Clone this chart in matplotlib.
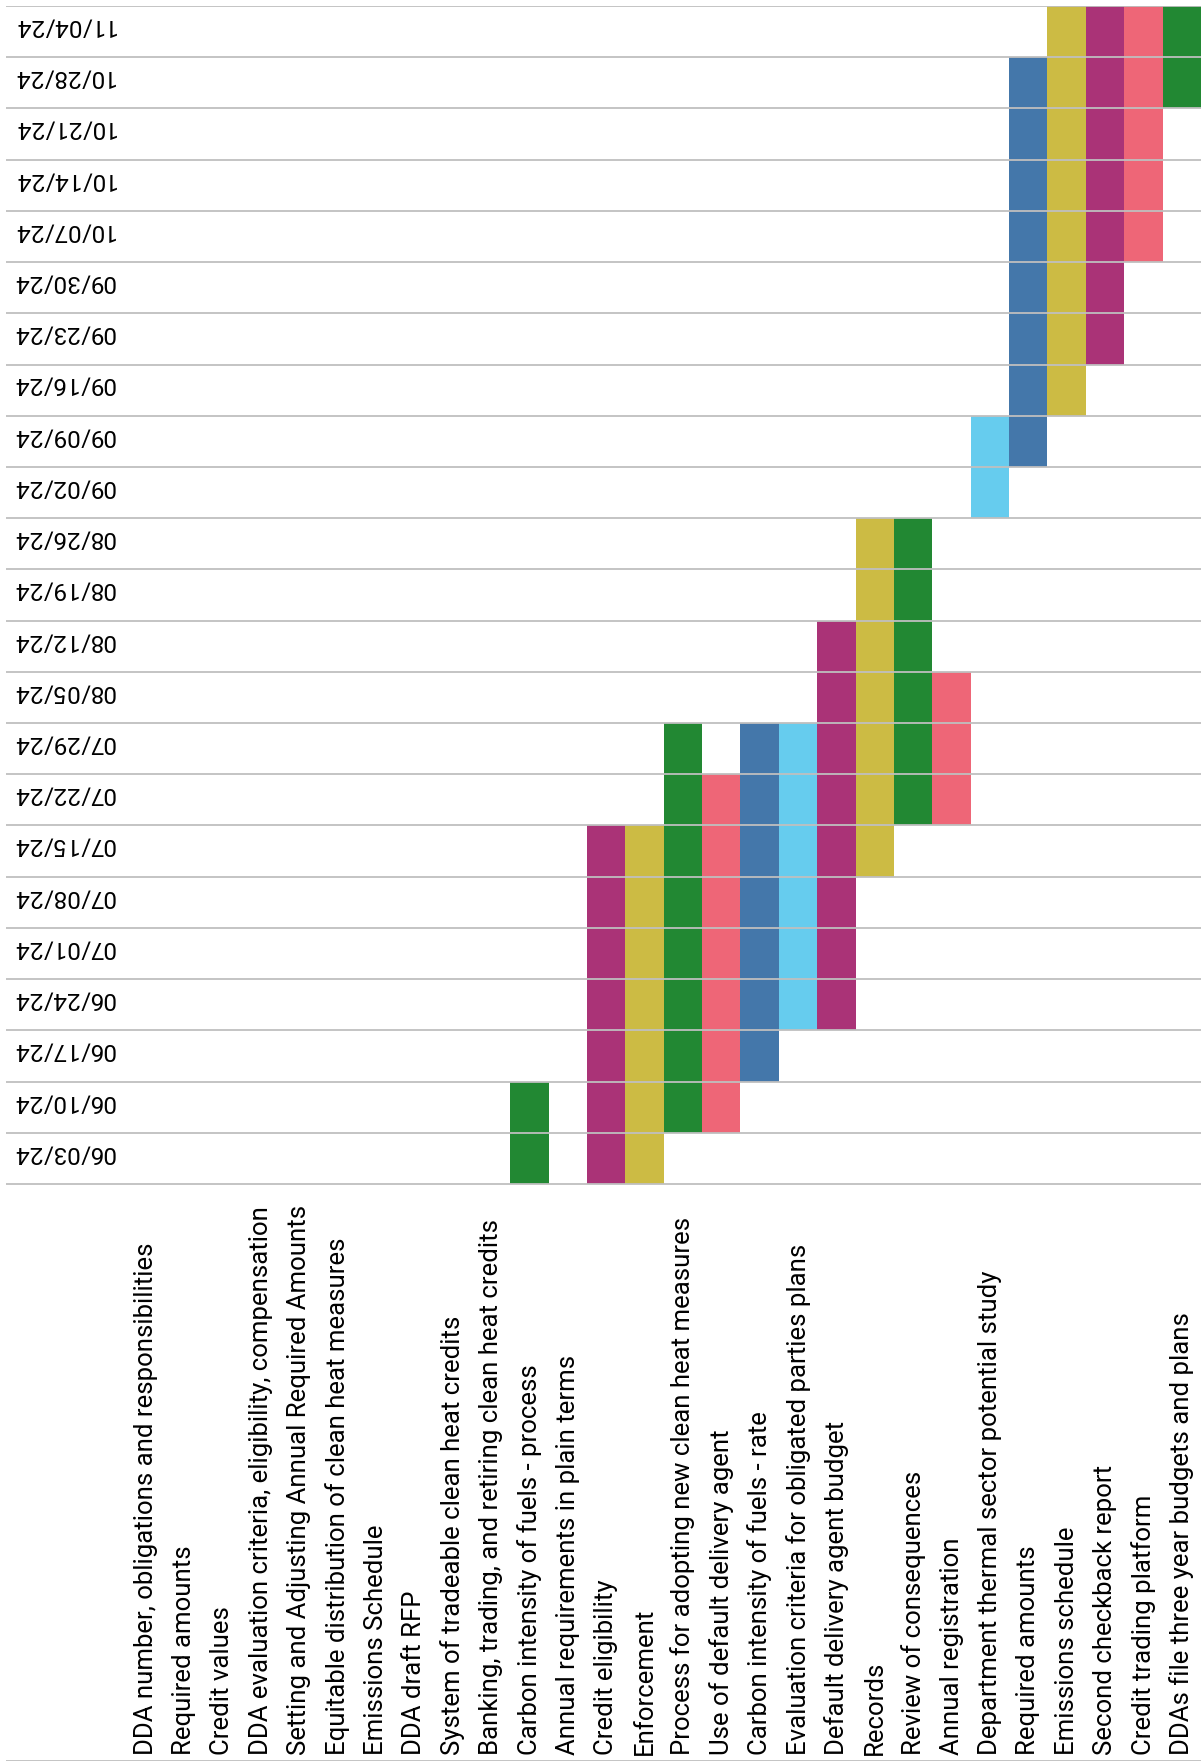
import numpy as np
import matplotlib.pyplot as plt

plt.rcParams['font.family'] = ['Roboto', 'DejaVu Sans']

weeks = ['06/03/24', '06/10/24', '06/17/24', '06/24/24', '07/01/24', '07/08/24',
         '07/15/24', '07/22/24', '07/29/24', '08/05/24', '08/12/24', '08/19/24',
         '08/26/24', '09/02/24', '09/09/24', '09/16/24', '09/23/24', '09/30/24',
         '10/07/24', '10/14/24', '10/21/24', '10/28/24', '11/04/24']

tasks = ['DDA number, obligations and responsibilities',
         'Required amounts',
         'Credit values',
         'DDA evaluation criteria, eligibility, compensation',
         'Setting and Adjusting Annual Required Amounts',
         'Equitable distribution of clean heat measures',
         'Emissions Schedule',
         'DDA draft RFP',
         'System of tradeable clean heat credits',
         'Banking, trading, and retiring clean heat credits',
         'Carbon intensity of fuels - process',
         'Annual requirements in plain terms',
         'Credit eligibility',
         'Enforcement',
         'Process for adopting new clean heat measures',
         'Use of default delivery agent',
         'Carbon intensity of fuels - rate',
         'Evaluation criteria for obligated parties plans',
         'Default delivery agent budget',
         'Records',
         'Review of consequences',
         'Annual registration',
         'Department thermal sector potential study',
         'Required amounts',
         'Emissions schedule',
         'Second checkback report',
         'Credit trading platform',
         'DDAs file three year budgets and plans']

# first and last week (as in the weeks list) for the tasks that have a bar
bar_task = [10, 12, 13, 14, 15, 16, 17, 18, 19, 20, 21, 22, 23, 24, 25, 26, 27]
bar_start = ['06/03/24', '06/03/24', '06/03/24', '06/10/24', '06/10/24', '06/17/24',
             '06/24/24', '06/24/24', '07/15/24', '07/22/24', '07/22/24', '09/02/24',
             '09/09/24', '09/16/24', '09/23/24', '10/07/24', '10/28/24']
bar_end = ['06/10/24', '07/15/24', '07/15/24', '07/29/24', '07/22/24', '07/29/24',
           '07/29/24', '08/12/24', '08/26/24', '08/26/24', '08/05/24', '09/09/24',
           '10/28/24', '11/04/24', '11/04/24', '11/04/24', '11/04/24']
bar_color = ['green', 'purple', 'yellow', 'green', 'red', 'blue', 'cyan', 'purple',
             'yellow', 'green', 'red', 'cyan', 'blue', 'yellow', 'purple', 'red', 'green']

palette = {'blue': '#4477AA', 'cyan': '#66CCEE', 'green': '#228833',
           'yellow': '#CCBB44', 'red': '#EE6677', 'purple': '#AA3377'}

W, H = 1201, 1765
fig = plt.figure(figsize=(W / 100, H / 100), dpi=100)
ax = fig.add_axes([6 / W, 3 / H, 1195 / W, 1755 / H])
ax.axis('off')

nweeks = len(weeks)
ybot = -11.265
ax.set_xlim(-3.14, len(tasks))
ax.set_ylim(ybot, nweeks)

# bars
starts = np.array([weeks.index(s) for s in bar_start])
ends = np.array([weeks.index(e) for e in bar_end])
ax.bar(bar_task, ends - starts + 1, bottom=starts, width=1.0, align='edge',
       color=[palette[c] for c in bar_color], linewidth=0, zorder=2)

# horizontal grid lines (drawn over the bars)
ax.hlines(list(range(nweeks + 1)) + [ybot], -3.14, len(tasks),
          color='#BFBFBF', linewidth=1.3, zorder=3)

# week labels, upside down as in the source
for i, w in enumerate(weeks):
    ax.text(-2.97, i + 0.63, w, rotation=180, ha='left', va='center',
            fontsize=17.5, color='black', zorder=4)

# task labels
for k, t in enumerate(tasks):
    ax.text(k + 0.5, ybot + 0.14, t, rotation=90, ha='center', va='bottom',
            fontsize=18.5, color='black', zorder=4)

fig.savefig('out.png', dpi=100)
